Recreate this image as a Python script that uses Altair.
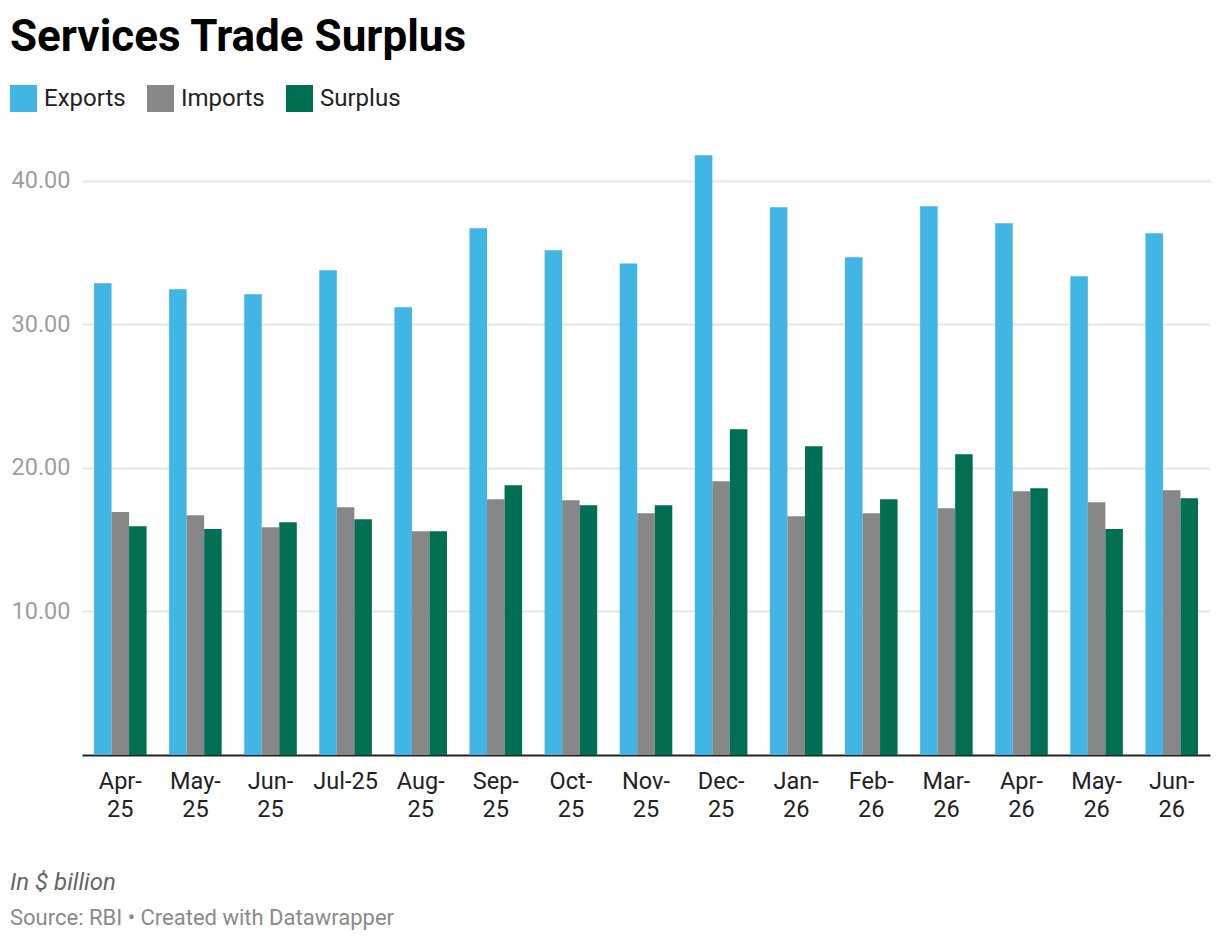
"""Services trade surplus — grouped Altair bar chart."""

import altair as alt
import pandas as pd

months = [
    "Apr-25", "May-25", "Jun-25", "Jul-25", "Aug-25", "Sep-25", "Oct-25",
    "Nov-25", "Dec-25", "Jan-26", "Feb-26", "Mar-26", "Apr-26", "May-26", "Jun-26",
]
exports = [32.87, 32.45, 32.11, 33.78, 31.20, 36.70, 35.17, 34.25,
           41.79, 38.17, 34.68, 38.24, 37.05, 33.36, 36.36]
imports = [16.93, 16.70, 15.87, 17.26, 15.59, 17.82, 17.75, 16.84,
           19.07, 16.64, 16.84, 17.19, 18.38, 17.61, 18.45]
surplus = [15.94, 15.74, 16.22, 16.43, 15.59, 18.80, 17.40, 17.40,
           22.70, 21.51, 17.82, 20.96, 18.59, 15.74, 17.89]

series = ["Exports", "Imports", "Surplus"]
colors = ["#41b5e4", "#878787", "#006f54"]
y_ticks = [10, 20, 30, 40]

title = "Services Trade Surplus"
unit_note = "In $ billion"
source_note = "Source: RBI • Created with Datawrapper"

FONT = "Roboto"
W, H = 1128, 610

rows = []
for name, values in zip(series, [exports, imports, surplus]):
    for m, v in zip(months, values):
        rows.append({"month": m, "series": name, "value": v})
df = pd.DataFrame(rows)

bars = (
    alt.Chart(df)
    .mark_bar(opacity=1)
    .encode(
        x=alt.X(
            "month:N",
            sort=months,
            title=None,
            scale=alt.Scale(paddingInner=0.3, paddingOuter=0.16),
            axis=alt.Axis(
                labelExpr="datum.label == 'Jul-25' ? datum.label : "
                "[substring(datum.label, 0, 4), substring(datum.label, 4)]",
                labelAngle=0,
                labelFontSize=23.5,
                labelColor="#222222",
                labelFont=FONT,
                labelLineHeight=28,
                labelPadding=14,
                ticks=False,
                domainColor="#222222",
                domainWidth=2,
                grid=False,
            ),
        ),
        xOffset=alt.XOffset(
            "series:N",
            sort=series,
            scale=alt.Scale(paddingInner=0, paddingOuter=0),
        ),
        y=alt.Y(
            "value:Q",
            title=None,
            scale=alt.Scale(domain=[0, 42.5], nice=False, zero=True),
            axis=alt.Axis(
                values=y_ticks,
                format=".2f",
                labelFontSize=23.5,
                labelColor="#9e9e9e",
                labelFont=FONT,
                labelPadding=12,
                ticks=False,
                domain=False,
                grid=True,
                gridColor="#e6e6e6",
                gridWidth=2,
            ),
        ),
        color=alt.Color(
            "series:N",
            sort=series,
            scale=alt.Scale(domain=series, range=colors),
            legend=alt.Legend(
                title=None,
                orient="none",
                legendX=-72,
                legendY=-60,
                direction="horizontal",
                symbolType="square",
                symbolSize=729,
                symbolStrokeWidth=0,
                symbolOpacity=1,
                labelFontSize=24,
                labelFont=FONT,
                labelColor="#222222",
                labelOffset=7,
                columnPadding=21,
            ),
        ),
    )
)

notes = (
    alt.Chart(pd.DataFrame({"note": [unit_note]}))
    .mark_text(align="left", baseline="alphabetic", font=FONT, fontSize=24,
               fontStyle="italic", color="#666666")
    .encode(x=alt.value(-72), y=alt.value(745), text="note:N")
)
source = (
    alt.Chart(pd.DataFrame({"note": [source_note]}))
    .mark_text(align="left", baseline="alphabetic", font=FONT, fontSize=22,
               color="#8a8a8a")
    .encode(x=alt.value(-72), y=alt.value(780), text="note:N")
)

chart = (
    alt.layer(bars, notes, source)
    .properties(
        width=W,
        height=H,
        title=alt.TitleParams(
            title,
            anchor="start",
            frame="group",
            dx=-72,
            offset=25,
            font=FONT,
            fontSize=44,
            fontWeight="bold",
            color="#000000",
        ),
        autosize=alt.AutoSizeParams(type="none"),
        padding={"left": 74, "top": 137, "right": 2, "bottom": 179},
    )
    .configure_view(stroke=None)
)

chart.save("out.html", embed_options={"renderer": "svg", "actions": False})
